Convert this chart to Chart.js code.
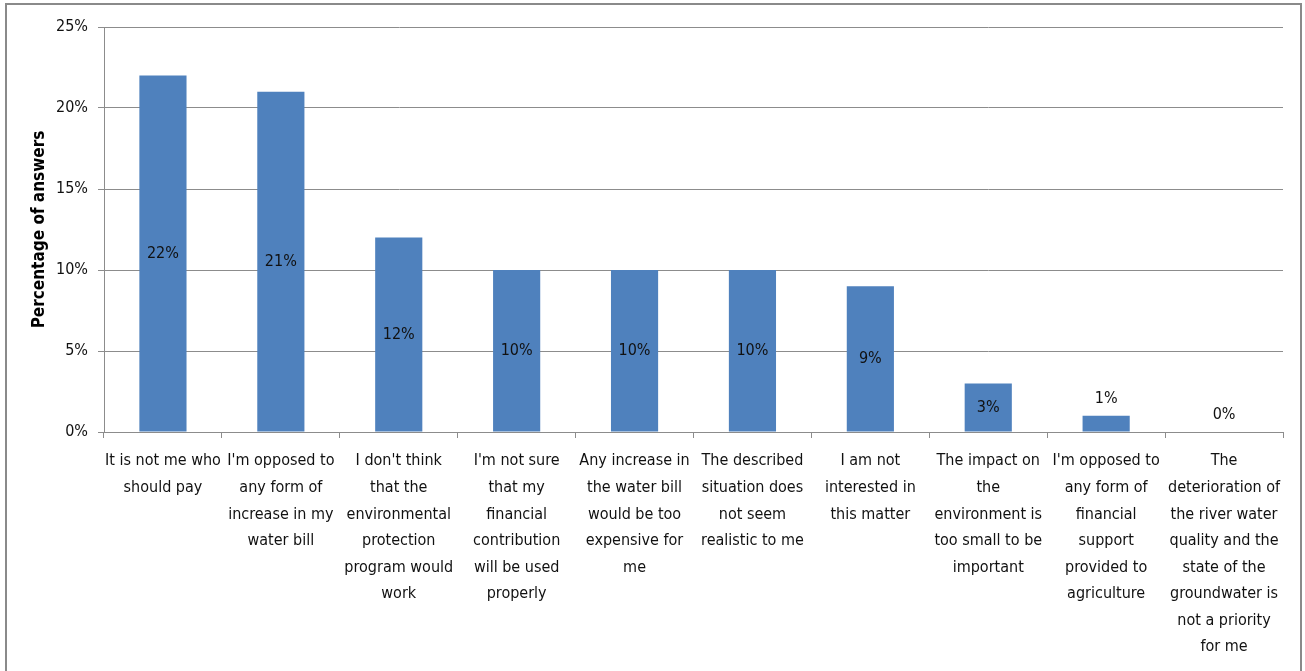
<!DOCTYPE html>
<html>
<head>
<meta charset="utf-8">
<script src="https://cdn.jsdelivr.net/npm/chart.js@4.4.0/dist/chart.umd.min.js"></script>
<style>
  html, body { margin: 0; padding: 0; background: #fff; overflow: hidden; }
  #myChart { position: absolute; left: 0; top: 0; }
  .frame { position: absolute; left: 5px; top: 3px; width: 1293px; height: 700px;
           border: 2px solid #8a8a8a; pointer-events: none; }
</style>
</head>
<body>
<canvas id="myChart" width="1305" height="671"></canvas>
<div class="frame"></div>
<script>
// categories (wrapped like the original)
var reasons = [
  ['It is not me who', 'should pay'],
  ["I'm opposed to", 'any form of', 'increase in my', 'water bill'],
  ["I don't think", 'that the', 'environmental', 'protection', 'program would', 'work'],
  ["I'm not sure", 'that my', 'financial', 'contribution', 'will be used', 'properly'],
  ['Any increase in', 'the water bill', 'would be too', 'expensive for', 'me'],
  ['The described', 'situation does', 'not seem', 'realistic to me'],
  ['I am not', 'interested in', 'this matter'],
  ['The impact on', 'the', 'environment is', 'too small to be', 'important'],
  ["I'm opposed to", 'any form of', 'financial', 'support', 'provided to', 'agriculture'],
  ['The', 'deterioration of', 'the river water', 'quality and the', 'state of the', 'groundwater is', 'not a priority', 'for me']
];
var answers = [22, 21, 12, 10, 10, 10, 9, 3, 1, 0];
var yTicks = [0, 5, 10, 15, 20, 25];

var fontFam = '"DejaVu Sans Condensed", Roboto, sans-serif';
var gridCol = '#8c8c8c';

// value labels: centred in the bar, above it when the bar is too short
var barLabels = {
  id: 'barLabels',
  afterDatasetsDraw: function (chart) {
    var ctx = chart.ctx;
    var meta = chart.getDatasetMeta(0);
    ctx.save();
    ctx.font = '16px ' + fontFam;
    ctx.fillStyle = '#111';
    ctx.textAlign = 'center';
    ctx.textBaseline = 'middle';
    meta.data.forEach(function (bar, i) {
      var h = bar.base - bar.y;
      var ty = h > 26 ? (bar.y + bar.base) / 2 : bar.y - 17;
      ctx.fillText(answers[i] + '%', bar.x, ty);
    });
    ctx.restore();
  }
};

var data = {
  labels: reasons,
  datasets: [{
    label: 'Percentage of answers',
    backgroundColor: '#4F81BD',
    borderWidth: 0,
    data: answers,
    barPercentage: 0.4,
    categoryPercentage: 1.0
  }]
};

let config = {
  type: 'bar',
  data,
  plugins: [barLabels],
  options: {
    responsive: false,
    animation: false,
    layout: { padding: { left: 20, right: 22, top: 27, bottom: 0 } },
    plugins: { legend: { display: false }, tooltip: { enabled: false } },
    scales: {
      y: {
        min: 0,
        max: 25,
        afterBuildTicks: function (s) { s.ticks = yTicks.map(function (v) { return { value: v }; }); },
        afterFit: function (s) { s.width = 84; },
        ticks: {
          callback: function (v) { return v + '%'; },
          font: { family: fontFam, size: 16 },
          color: '#111',
          padding: 10
        },
        grid: { color: gridCol, lineWidth: 1, tickLength: 6 },
        border: { color: gridCol },
        title: {
          display: true,
          text: 'Percentage of answers',
          font: { family: fontFam, size: 17, weight: 'bold' },
          color: '#000',
          padding: { top: 9, bottom: 0 }
        }
      },
      x: {
        afterFit: function (s) { s.height = 671 - 432; },
        ticks: {
          autoSkip: false,
          maxRotation: 0,
          minRotation: 0,
          font: { family: fontFam, size: 16, lineHeight: 1.66 },
          color: '#111',
          padding: 10
        },
        grid: { offset: true, drawOnChartArea: false, color: gridCol, tickLength: 6 },
        border: { color: gridCol }
      }
    }
  }
};

var myChart = new Chart(document.getElementById('myChart'), config);
</script>
</body>
</html>
